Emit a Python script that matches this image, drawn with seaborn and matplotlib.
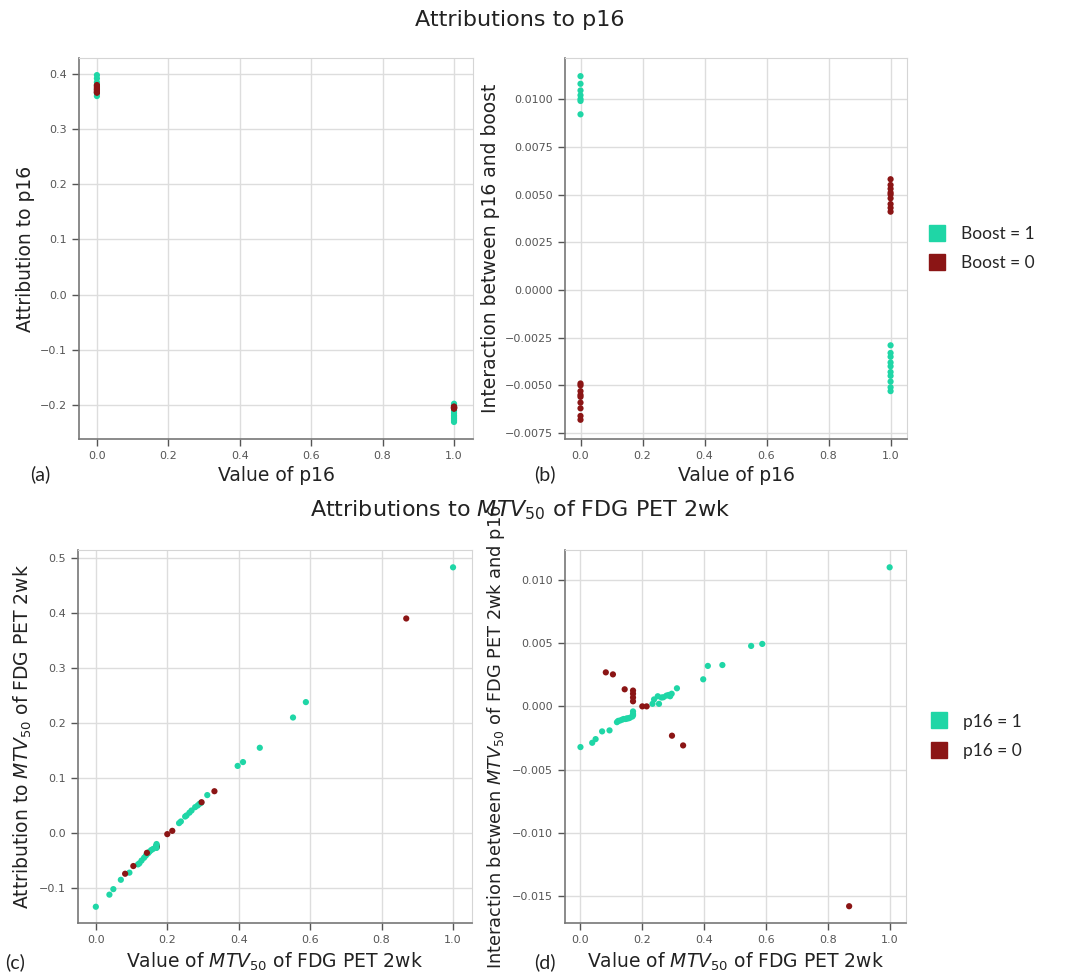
import matplotlib
matplotlib.use("Agg")
import matplotlib.pyplot as plt
from matplotlib.lines import Line2D
import seaborn as sns
import pandas as pd

# colours for the two groups
teal = "#1fd6a6"
maroon = "#8b1515"

# ---- top row data: p16 value, boost flag, attribution, interaction ----
p16_val = [0] * 7 + [0] * 9 + [1] * 9 + [1] * 10
boost = [1] * 7 + [0] * 9 + [0] * 9 + [1] * 10
attr_p16 = [0.398, 0.392, 0.385, 0.380, 0.372, 0.365, 0.360,
            0.380, 0.378, 0.376, 0.374, 0.372, 0.370, 0.368, 0.367, 0.366,
            -0.203, -0.204, -0.205, -0.205, -0.206, -0.206, -0.207, -0.205, -0.204,
            -0.198, -0.202, -0.207, -0.211, -0.215, -0.219, -0.222, -0.225, -0.228, -0.231]
inter_p16_boost = [0.0112, 0.0108, 0.01045, 0.0102, 0.0100, 0.0099, 0.0092,
                   -0.0049, -0.0050, -0.0053, -0.0055, -0.0056, -0.0059, -0.0062, -0.0066, -0.0068,
                   0.0058, 0.0055, 0.0053, 0.0051, 0.0050, 0.0048, 0.0045, 0.0043, 0.0041,
                   -0.0029, -0.0033, -0.0035, -0.0038, -0.0040, -0.0043, -0.0045, -0.0048, -0.0051, -0.0053]

# ---- bottom row data: MTV50 value, p16 flag, attribution, interaction ----
mtv_val = [0.170, 0.170, 0.170, 0.170,
           0.000, 0.038, 0.049, 0.070, 0.094, 0.118, 0.122, 0.128, 0.135, 0.140,
           0.146, 0.150, 0.155, 0.160, 0.168, 0.170, 0.170, 0.170,
           0.233, 0.238, 0.250, 0.254, 0.262, 0.268, 0.278, 0.285, 0.290, 0.295,
           0.312, 0.397, 0.412, 0.459, 0.552, 0.588, 1.000,
           0.082, 0.105, 0.143, 0.200, 0.214, 0.296, 0.332, 0.869]
mtv_p16 = [0] * 4 + [1] * 35 + [0] * 8
attr_mtv = [-0.024, -0.025, -0.023, -0.026,
            -0.134, -0.112, -0.102, -0.085, -0.072, -0.057, -0.055, -0.050, -0.045, -0.041,
            -0.037, -0.034, -0.031, -0.029, -0.025, -0.022, -0.020, -0.027,
            0.018, 0.021, 0.030, 0.032, 0.037, 0.041, 0.047, 0.050, 0.053, 0.055,
            0.069, 0.122, 0.129, 0.155, 0.210, 0.238, 0.483,
            -0.074, -0.060, -0.036, -0.002, 0.004, 0.056, 0.076, 0.390]
inter_mtv_p16 = [0.0004, 0.0007, 0.0010, 0.00125,
                 -0.00322, -0.00288, -0.00259, -0.00198, -0.00190, -0.00125, -0.00115, -0.00112,
                 -0.00105, -0.00100, -0.00100, -0.00095, -0.00095, -0.00090, -0.00080, -0.00060,
                 -0.00040, -0.00070,
                 0.00020, 0.00055, 0.00080, 0.00020, 0.00070, 0.00072, 0.00085, 0.00090, 0.00080,
                 0.00100, 0.00143, 0.00214, 0.00320, 0.00327, 0.00478, 0.00494, 0.01100,
                 0.00269, 0.00253, 0.00135, 0.00000, 0.00000, -0.00232, -0.00309, -0.01581]

top = pd.DataFrame({"x": p16_val, "g": boost, "a": attr_p16, "i": inter_p16_boost})
bot = pd.DataFrame({"x": mtv_val, "g": mtv_p16, "a": attr_mtv, "i": inter_mtv_p16})
# maroon on top in the upper panels
top = pd.concat([top[top.g == 1], top[top.g == 0]])

sns.set_style("whitegrid")
pal = {1: teal, 0: maroon}

fig = plt.figure(figsize=(10.83, 9.75), dpi=100)
ax_a = fig.add_axes([0.073, 0.5497, 0.3637, 0.3908])
ax_b = fig.add_axes([0.5217, 0.5497, 0.3158, 0.3908])
ax_c = fig.add_axes([0.072, 0.0533, 0.3638, 0.3826])
ax_d = fig.add_axes([0.5217, 0.0533, 0.3149, 0.3826])

sns.scatterplot(data=top, x="x", y="a", hue="g", palette=pal, ax=ax_a, s=20, linewidth=0, legend=False)
sns.scatterplot(data=top, x="x", y="i", hue="g", palette=pal, ax=ax_b, s=20, linewidth=0, legend=False)
sns.scatterplot(data=bot, x="x", y="a", hue="g", palette=pal, ax=ax_c, s=20, linewidth=0, legend=False)
sns.scatterplot(data=bot, x="x", y="i", hue="g", palette=pal, ax=ax_d, s=20, linewidth=0, legend=False)

mtv = r"$\it{MTV}_{50}$"
labels = {
    ax_a: ("Value of p16", "Attribution to p16", 13.5),
    ax_b: ("Value of p16", "Interaction between p16 and boost", 13.5),
    ax_c: ("Value of " + mtv + " of FDG PET 2wk", "Attribution to " + mtv + " of FDG PET 2wk", 13.5),
    ax_d: ("Value of " + mtv + " of FDG PET 2wk", "Interaction between " + mtv + " of FDG PET 2wk and p16", 12.8),
}
for ax, (xl, yl, yfs) in labels.items():
    ax.set_xlabel(xl, fontsize=13.5, color="#222222", labelpad=4)
    ax.set_ylabel(yl, fontsize=yfs, color="#222222", labelpad=4)
    ax.set_xlim(-0.05, 1.053)
    ax.set_xticks([0, 0.2, 0.4, 0.6, 0.8, 1.0])
    ax.tick_params(labelsize=8, colors="#555555", length=5, width=1, direction="out",
                   left=True, bottom=True)
    ax.grid(True, color="#dddddd", linewidth=1)
    for sp in ["left", "bottom"]:
        ax.spines[sp].set_color("#777777")
        ax.spines[sp].set_linewidth(1.2)
    for sp in ["top", "right"]:
        ax.spines[sp].set_color("#d5d5d5")

ax_a.set_ylim(-0.262, 0.429)
ax_a.set_yticks([-0.2, -0.1, 0.0, 0.1, 0.2, 0.3, 0.4])
ax_b.set_ylim(-0.00781, 0.01215)
ax_b.set_yticks([-0.0075, -0.005, -0.0025, 0.0, 0.0025, 0.005, 0.0075, 0.01])
ax_b.set_yticklabels(["−0.0075", "−0.0050", "−0.0025", "0.0000", "0.0025", "0.0050", "0.0075", "0.0100"])
ax_c.set_ylim(-0.1636, 0.5145)
ax_c.set_yticks([-0.1, 0.0, 0.1, 0.2, 0.3, 0.4, 0.5])
ax_d.set_ylim(-0.01714, 0.01237)
ax_d.set_yticks([-0.015, -0.01, -0.005, 0.0, 0.005, 0.01])
ax_d.set_yticklabels(["−0.015", "−0.010", "−0.005", "0.000", "0.005", "0.010"])

# legends
def sq(c):
    return Line2D([], [], marker="s", linestyle="", markersize=12, color=c)

ax_b.legend([sq(teal), sq(maroon)], ["Boost = 1", "Boost = 0"], loc="center left",
            bbox_to_anchor=(0.99, 0.5), frameon=False, prop={"family": "Lato", "size": 12.5},
            handletextpad=0.4, labelspacing=0.8)
ax_d.legend([sq(teal), sq(maroon)], ["p16 = 1", "p16 = 0"], loc="center left",
            bbox_to_anchor=(1.0, 0.5), frameon=False, prop={"family": "Lato", "size": 12.5},
            handletextpad=0.4, labelspacing=0.8)

# titles and panel letters
fig.text(0.48, 0.979, "Attributions to p16", ha="center", va="center", fontsize=16, color="#222222")
fig.text(0.48, 0.477, "Attributions to " + mtv + " of FDG PET 2wk", ha="center", va="center",
         fontsize=16, color="#222222")
for x, y, t in [(0.037, 0.514, "(a)"), (0.503, 0.514, "(b)"), (0.014, 0.013, "(c)"), (0.503, 0.013, "(d)")]:
    fig.text(x, y, t, ha="center", va="center", fontsize=14, family="Lato", color="#222222")

fig.savefig("out.png", dpi=100)
